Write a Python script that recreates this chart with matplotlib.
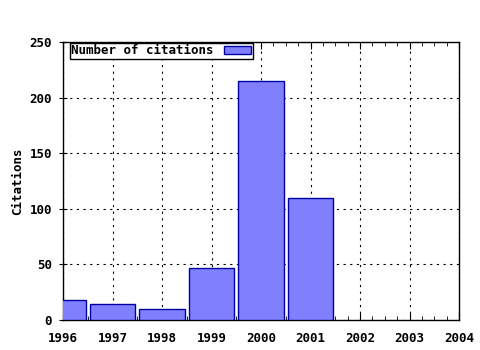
import matplotlib
matplotlib.use("Agg")
import matplotlib.pyplot as plt
from matplotlib.ticker import MultipleLocator

years = [1996, 1997, 1998, 1999, 2000, 2001]
citations = [18, 14, 10, 47, 215, 110]
xticks = [1996, 1997, 1998, 1999, 2000, 2001, 2002, 2003, 2004]
yticks = [0, 50, 100, 150, 200, 250]

plt.rcParams['font.family'] = ['DejaVu Sans Mono']
plt.rcParams['font.weight'] = 'bold'

fig = plt.figure(figsize=(4.8, 3.5), dpi=100)
ax = fig.add_axes([63/480, 30/350, 396/480, 278/350])

ax.bar(years, citations, width=0.91, color='#8080ff', edgecolor='#0000a0',
       linewidth=1.0, label='Number of citations', zorder=3)

ax.set_xlim(1996, 2004)
ax.set_ylim(0, 250)
ax.set_xticks(xticks)
ax.set_xticklabels([str(x) for x in xticks], fontsize=9, fontweight='bold')
ax.set_yticks(yticks)
ax.set_yticklabels([str(y) for y in yticks], fontsize=9, fontweight='bold')
ax.xaxis.set_minor_locator(MultipleLocator(0.25))
ax.tick_params(axis='x', which='both', direction='in', top=True, bottom=True)
ax.tick_params(axis='x', which='major', length=5, pad=9)
ax.tick_params(axis='x', which='minor', length=3)
ax.tick_params(axis='y', which='major', direction='inout', length=6, right=False, pad=5)
ax.grid(True, linestyle=(0, (2, 4)), color='black', linewidth=0.8, zorder=1)
ax.set_axisbelow(True)
for s in ax.spines.values():
    s.set_linewidth(1.0)

ax.set_ylabel('Citations', fontsize=9, fontweight='bold', labelpad=4)

leg = ax.legend(loc='upper left', bbox_to_anchor=(0.015, 1.0), fontsize=9,
                frameon=True, fancybox=False, borderpad=0.1, handlelength=2.2,
                handleheight=0.6, markerfirst=False, borderaxespad=0.1,
                handletextpad=0.8)
leg.get_frame().set_edgecolor('black')
leg.get_frame().set_linewidth(1.0)
leg.get_frame().set_alpha(1)

fig.savefig('out.png', dpi=100)
